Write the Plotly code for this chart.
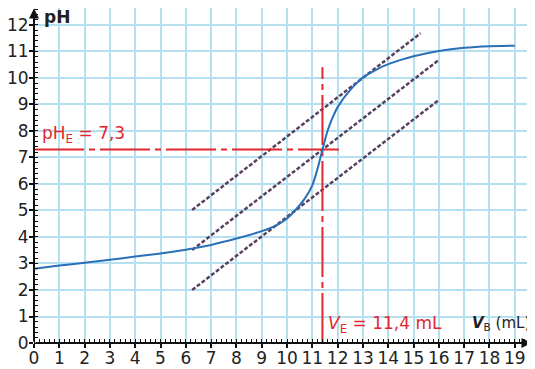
import plotly.graph_objects as go

# Titration curve (volume of base in mL, pH)
vb = [0, 1, 2, 3, 4, 5, 6, 6.3, 7, 8, 9, 9.6, 10, 10.3, 10.7, 11, 11.2, 11.4,
      11.6, 11.8, 12, 12.5, 13, 13.5, 14, 15, 16, 17, 18, 19]
ph = [2.8, 2.92, 3.03, 3.14, 3.26, 3.38, 3.52, 3.57, 3.7, 3.94, 4.22, 4.45,
      4.7, 4.98, 5.45, 5.95, 6.55, 7.3, 8.0, 8.5, 8.9, 9.55, 10.02, 10.3,
      10.52, 10.82, 11.02, 11.14, 11.2, 11.22]

# Parallel tangent construction lines (endpoints)
tan_upper_x = [6.25, 15.28]
tan_upper_y = [5.02, 11.69]
tan_mid_x = [6.25, 16.0]
tan_mid_y = [3.51, 10.68]
tan_low_x = [6.25, 16.0]
tan_low_y = [2.0, 9.17]

# Equivalence point
ve = 11.4
phe = 7.3
ve_line_top = 10.4
phe_line_end = 12.05

x_ticks = list(range(0, 20))
y_ticks = list(range(0, 13))

RED = "#e3262e"
BLUE = "#2a6fb8"
TAN = "#5a4060"
GRID = "#b5e0f0"
FONT = "DejaVu Sans"

fig = go.Figure()

for tx, ty in [(tan_upper_x, tan_upper_y), (tan_mid_x, tan_mid_y), (tan_low_x, tan_low_y)]:
    fig.add_trace(go.Scatter(x=tx, y=ty, mode="lines",
                             line=dict(color=TAN, width=2.5, dash="4px,2px"),
                             hoverinfo="skip", showlegend=False))

# Red equivalence lines
fig.add_trace(go.Scatter(x=[0, phe_line_end], y=[phe, phe], mode="lines",
                         line=dict(color=RED, width=2, dash="50px,5px,6px,5px"),
                         showlegend=False))
fig.add_trace(go.Scatter(x=[ve, ve], y=[0, ve_line_top], mode="lines",
                         line=dict(color=RED, width=2, dash="50px,5px,6px,5px"),
                         showlegend=False))

fig.add_trace(go.Scatter(x=vb, y=ph, mode="lines",
                         line=dict(color=BLUE, width=2, shape="spline", smoothing=0.6),
                         showlegend=False))

# Axis arrows
fig.add_annotation(x=19.66, y=0, ax=0, ay=0, xref="x", yref="y", axref="x", ayref="y",
                   showarrow=True, arrowhead=2, arrowsize=1, arrowwidth=2, arrowcolor="#111", text="")
fig.add_annotation(x=0, y=12.62, ax=0, ay=0, xref="x", yref="y", axref="x", ayref="y",
                   showarrow=True, arrowhead=2, arrowsize=1, arrowwidth=2, arrowcolor="#111", text="")

fig.add_annotation(x=0.25, y=phe, text="pH<sub>E</sub> = 7,3", showarrow=False,
                   xanchor="left", yanchor="bottom", yshift=2,
                   font=dict(color=RED, size=17, family=FONT))
fig.add_annotation(x=11.55, y=0.68, text="<i>V</i><sub>E</sub> = 11,4 mL", showarrow=False,
                   xanchor="left", yanchor="middle",
                   font=dict(color=RED, size=17, family=FONT))
fig.add_annotation(x=17.25, y=0.75, text="<b><i>V</i></b><sub>B</sub> (mL)", showarrow=False,
                   xanchor="left", yanchor="middle",
                   font=dict(color="#222", size=15, family=FONT))
fig.add_annotation(x=0.3, y=12.3, text="<b>pH</b>", showarrow=False,
                   xanchor="left", yanchor="middle",
                   font=dict(color="#222", size=17, family=FONT))

axis_common = dict(
    showgrid=True, gridcolor=GRID, gridwidth=2, zeroline=False, showline=False,
    ticks="outside", ticklen=4, tickwidth=1.5, tickcolor="#111",
    tickfont=dict(size=17, family=FONT, color="#222"),
    minor=dict(dtick=0.2, ticks="inside", ticklen=4, tickwidth=1, tickcolor="#111", showgrid=False),
    fixedrange=True,
)

fig.update_xaxes(range=[0, 19.8], tickvals=x_ticks, ticktext=[str(v) for v in x_ticks],
                 ticklabelstandoff=-4, **axis_common)
fig.update_yaxes(range=[0, 12.64], tickvals=y_ticks, ticktext=[str(v) for v in y_ticks],
                 ticklabelstandoff=-3, **axis_common)

# The page body adds an 8px offset; size the figure so the plot sits where the reference has it
fig.update_layout(
    width=527, height=361,
    margin=dict(l=26, r=0, t=0, b=26, autoexpand=False),
    paper_bgcolor="white", plot_bgcolor="white",
    showlegend=False,
)

fig.write_html("out.html")
